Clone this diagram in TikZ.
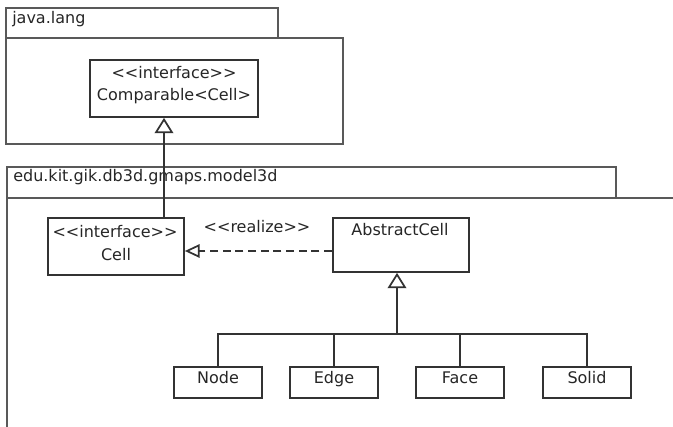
\documentclass[tikz,border=0pt]{standalone}
\usepackage{fontspec}
\setmainfont{DejaVu Sans}
\usetikzlibrary{arrows.meta}
\begin{document}
\begin{tikzpicture}[x=0.75pt,y=-0.75pt,
  pkgpart/.style={draw=black!65, line width=1.5pt, inner sep=0pt, anchor=north west},
  classbox/.style={draw=black!80, line width=1.3pt, inner sep=0pt, fill=white},
  txt/.style={inner sep=0pt, anchor=base, font=\fontsize{12}{14}\selectfont, text=black!85},
  conn/.style={draw=black!80, line width=1.3pt},
  gen/.style={conn, -{Triangle[open, length=11.5pt, width=14pt]}},
  real/.style={conn, dash pattern=on 6pt off 3.5pt, -{Triangle[open, length=11pt, width=10pt]}}]
  \useasboundingbox (0,0) rectangle (673,427);
  \clip (0,0) rectangle (673,427);

  % package java.lang
  \node[pkgpart, minimum width=204pt, minimum height=22.5pt] (langtab) at (5,7) {};
  \node[pkgpart, minimum width=252.75pt, minimum height=79.5pt] (langbody) at (5,37) {};
  \node[txt, anchor=base west] (langname) at (12,23.5) {java.lang};

  % package edu.kit.gik.db3d.gmaps.model3d
  \node[pkgpart, minimum width=456.75pt, minimum height=23.25pt] (modeltab) at (6,166) {};
  \node[pkgpart, minimum width=525pt, minimum height=195pt] (modelbody) at (6,197) {};
  \node[txt, anchor=base west] (modelname) at (13,181.5) {edu.kit.gik.db3d.gmaps.model3d};

  % classes and interfaces
  \node[classbox, minimum width=126pt, minimum height=42.75pt] (comp) at (174,88.5) {};
  \node[txt] (compst) at (174,79) {<{}<interface>{}>};
  \node[txt] (compname) at (174,101) {Comparable<Cell>};

  \node[classbox, minimum width=102pt, minimum height=42.75pt] (cell) at (116,246.5) {};
  \node[txt] (cellst) at (115,238) {<{}<interface>{}>};
  \node[txt] (cellname) at (116,260) {Cell};

  \node[classbox, minimum width=102pt, minimum height=40.5pt] (abs) at (401,245) {};
  \node[txt] (absname) at (400,236) {AbstractCell};

  \foreach \n/\x/\t in {leafnode/218/Node, leafedge/334/Edge, leafface/460/Face, leafsolid/587/Solid}{
    \node[classbox, minimum width=66pt, minimum height=23.25pt] (\n) at (\x,382.5) {};
    \node[txt] (\n label) at (\x,383) {\t};
  }

  % relations
  \coordinate (genx) at (164,0);
  \draw[gen] (cell.north -| genx) -- (comp.south -| genx);

  \coordinate (realy) at (0,251);
  \draw[real] (abs.west |- realy) -- (cell.east |- realy);
  \node[txt] (reallabel) at (257,233) {<{}<realize>{}>};

  \coordinate (bus) at (397,334);
  \draw[gen] (bus) -- (abs.south -| bus);
  \draw[conn] (leafnode.north) |- (leafsolid.north |- bus) -- (leafsolid.north);
  \draw[conn] (leafedge.north) -- (leafedge.north |- bus);
  \draw[conn] (leafface.north) -- (leafface.north |- bus);
\end{tikzpicture}
\end{document}
